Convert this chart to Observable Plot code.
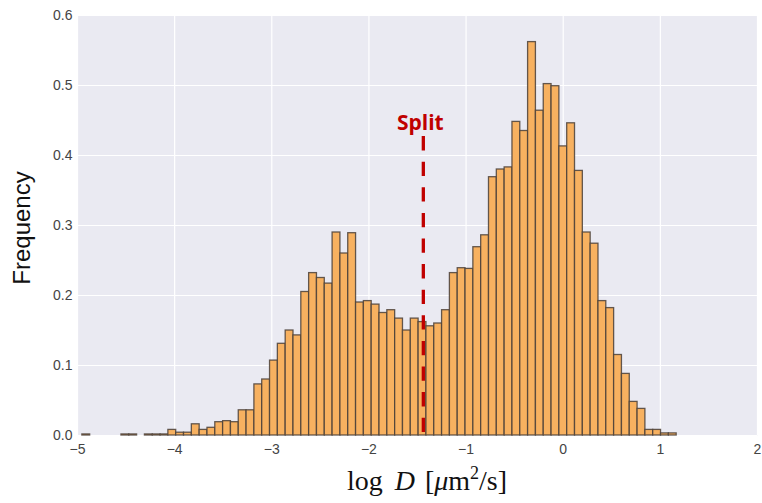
<!DOCTYPE html>
<html>
<head>
<meta charset="utf-8">
<script src="https://cdn.jsdelivr.net/npm/d3@7"></script>
<script src="https://cdn.jsdelivr.net/npm/@observablehq/plot@0.6"></script>
<style>
  body { margin: 0; background: #fff; }
  #chart svg { display: block; }
</style>
</head>
<body>
<div id="chart"></div>
<script>
// Histogram of log10 diffusion coefficients (uniform bins)
const binStart = -4.95;
const binWidth = 0.0805;
const frequency = [
  0.0015, 0, 0, 0, 0, 0.0015, 0.0015, 0, 0.0015, 0.0015,
  0.0015, 0.008, 0.004, 0.004, 0.016, 0.008, 0.011, 0.019, 0.0205, 0.019,
  0.036, 0.036, 0.073, 0.080, 0.107, 0.131, 0.150, 0.143, 0.205, 0.232,
  0.225, 0.217, 0.290, 0.260, 0.289, 0.190, 0.192, 0.187, 0.175, 0.179,
  0.167, 0.150, 0.167, 0.162, 0.156, 0.160, 0.179, 0.232, 0.239, 0.238,
  0.269, 0.286, 0.369, 0.380, 0.383, 0.448, 0.435, 0.562, 0.464, 0.502,
  0.499, 0.413, 0.446, 0.378, 0.290, 0.274, 0.192, 0.182, 0.115, 0.088,
  0.048, 0.038, 0.008, 0.008, 0.003, 0.003
];
const xTicks = [-5, -4, -3, -2, -1, 0, 1, 2];
const yTicks = [0, 0.1, 0.2, 0.3, 0.4, 0.5, 0.6];

// Threshold separating the slow and fast populations
const splitAt = -1.44;
const splitTop = 0.427;
const splitLabel = "Split";

const bins = frequency.map((f, i) => ({
  x1: binStart + i * binWidth,
  x2: binStart + (i + 1) * binWidth,
  f
}));

const chart = Plot.plot({
  width: 762,
  height: 503,
  marginLeft: 77,
  marginRight: 5,
  marginTop: 15,
  marginBottom: 68,
  style: {
    background: "#fff",
    fontFamily: "'Liberation Sans', Arial, sans-serif",
    fontSize: "14px",
    color: "#444"
  },
  x: { domain: [-5, 2] },
  y: { domain: [0, 0.6] },
  marks: [
    Plot.frame({ fill: "#eaeaf2", stroke: "none" }),
    Plot.gridX(xTicks, { stroke: "#fff", strokeOpacity: 1, strokeWidth: 1.2 }),
    Plot.gridY(yTicks, { stroke: "#fff", strokeOpacity: 1, strokeWidth: 1.2 }),
    Plot.rect(bins, {
      x1: "x1", x2: "x2", y1: 0, y2: "f",
      fill: "#f7b160",
      stroke: "#4a4038",
      strokeWidth: 1.3,
      strokeOpacity: 0.85
    }),
    Plot.axisX({
      ticks: xTicks, tickSize: 0, tickPadding: 9, label: null,
      tickFormat: d3.format("d")
    }),
    Plot.axisY({
      ticks: yTicks, tickSize: 0, tickPadding: 5, label: null,
      tickFormat: d3.format(".1f")
    }),
    Plot.ruleX([splitAt], {
      y1: splitTop, y2: 0,
      stroke: "#c00000",
      strokeWidth: 3.3,
      strokeDasharray: "14.3,11.3"
    }),
    Plot.text([splitLabel], {
      x: splitAt, y: splitTop, text: d => d,
      dx: -3, dy: -7,
      lineAnchor: "bottom",
      fontWeight: "bold",
      fontSize: 21,
      fontFamily: "'Open Sans', sans-serif",
      fill: "#c00000"
    })
  ]
});

// Axis titles
const svg = d3.select(chart);
svg.append("text")
  .attr("transform", "translate(30,228) rotate(-90)")
  .attr("text-anchor", "middle")
  .attr("font-family", "'Liberation Sans', Arial, sans-serif")
  .attr("font-size", 24)
  .attr("fill", "#111")
  .text("Frequency");

const xt = svg.append("text")
  .attr("x", 427)
  .attr("y", 490)
  .attr("text-anchor", "middle")
  .attr("font-family", "'Liberation Serif', 'DejaVu Serif', serif")
  .attr("font-size", 28)
  .attr("fill", "#111");
xt.append("tspan").text("log");
xt.append("tspan").attr("dx", 12).attr("font-style", "italic").text("D");
xt.append("tspan").attr("dx", 10).text("[");
xt.append("tspan").attr("font-style", "italic").text("μ");
xt.append("tspan").text("m");
xt.append("tspan").attr("dy", -11).attr("font-size", 18).text("2");
xt.append("tspan").attr("dy", 11).text("/s]");

document.getElementById("chart").append(chart);
</script>
</body>
</html>
